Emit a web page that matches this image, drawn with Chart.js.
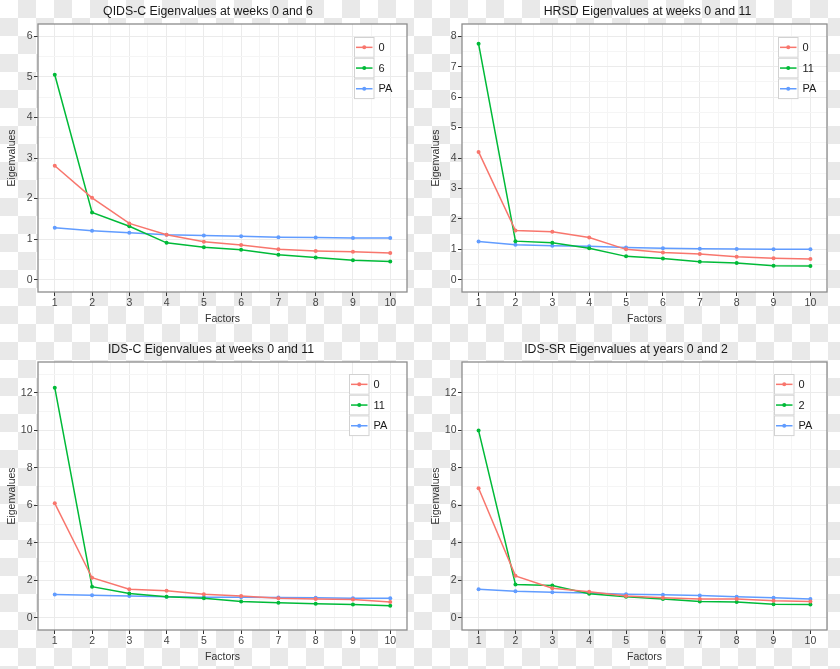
<!DOCTYPE html>
<html><head><meta charset="utf-8">
<script src="https://cdn.jsdelivr.net/npm/chart.js@4/dist/chart.umd.min.js"></script>
<style>
html,body{margin:0;padding:0;}
body{width:840px;height:669px;overflow:hidden;position:relative;
background:repeating-conic-gradient(#e9e9e9 0 25%, #ffffff 0 50%) 0 0/36px 36px;}
canvas{position:absolute;}
</style></head><body>
<canvas id="c1" width="420" height="335" style="left:0;top:0"></canvas>
<canvas id="c2" width="420" height="335" style="left:420px;top:0"></canvas>
<canvas id="c3" width="420" height="334" style="left:0;top:335px"></canvas>
<canvas id="c4" width="420" height="334" style="left:420px;top:335px"></canvas>
<script>
// ---- data ----
const factors = [1,2,3,4,5,6,7,8,9,10];
const qidsWeek0 = [2.81,2.02,1.39,1.11,0.94,0.86,0.75,0.71,0.69,0.66];
const qidsWeek6 = [5.05,1.66,1.32,0.91,0.80,0.74,0.62,0.55,0.48,0.45];
const qidsPA    = [1.28,1.21,1.16,1.11,1.09,1.07,1.05,1.04,1.03,1.03];
const hrsdWeek0  = [4.20,1.62,1.58,1.39,1.00,0.90,0.85,0.76,0.71,0.68];
const hrsdWeek11 = [7.75,1.27,1.22,1.04,0.77,0.70,0.59,0.55,0.46,0.45];
const hrsdPA     = [1.26,1.15,1.12,1.10,1.06,1.04,1.02,1.01,1.00,1.00];
const idscWeek0  = [6.11,2.14,1.53,1.44,1.26,1.16,1.05,1.01,0.98,0.85];
const idscWeek11 = [12.28,1.66,1.30,1.12,1.05,0.87,0.80,0.75,0.71,0.64];
const idscPA     = [1.25,1.21,1.17,1.12,1.10,1.10,1.09,1.07,1.05,1.05];
const idssrYear0 = [6.91,2.24,1.58,1.39,1.17,1.07,1.01,1.00,0.91,0.87];
const idssrYear2 = [9.99,1.78,1.73,1.28,1.12,1.01,0.87,0.84,0.73,0.71];
const idssrPA    = [1.53,1.42,1.37,1.32,1.26,1.23,1.19,1.12,1.07,1.01];
const xTickLabels = [1,2,3,4,5,6,7,8,9,10];
const yTicksQids = [0,1,2,3,4,5,6];
const yTicksHrsd = [0,1,2,3,4,5,6,7,8];
const yTicksIds  = [0,2,4,6,8,10,12];

// ---- styles / layout ----
const COLORS = ['#F8766D','#00BA38','#619CFF'];
const FONT = '"Liberation Sans", Arial, Helvetica, sans-serif';

function withMinors(majors, lo, hi){
  const step = majors[1]-majors[0];
  const out = [];
  for (let i=0;i<majors.length;i++){
    out.push(majors[i]);
    out.push(majors[i]+step/2);
  }
  out.unshift(majors[0]-step/2);
  return out.filter(v=>v>=lo && v<=hi).sort((a,b)=>a-b);
}

const ggDecor = {
  id:'ggDecor',
  beforeDraw(chart){
    const {ctx, chartArea:a} = chart;
    ctx.save(); ctx.fillStyle='#ffffff';
    ctx.fillRect(a.left,a.top,a.right-a.left,a.bottom-a.top); ctx.restore();
  },
  afterDraw(chart, args, o){
    const {ctx, chartArea:a} = chart;
    ctx.save();
    ctx.strokeStyle='#8c8c8c'; ctx.lineWidth=1.3;
    ctx.strokeRect(a.left,a.top,a.right-a.left,a.bottom-a.top);
    ctx.textAlign='center'; ctx.textBaseline='middle';
    ctx.fillStyle='#1a1a1a'; ctx.font='12.3px '+FONT;
    ctx.fillText(o.title, o.titleX, a.top-12);
    ctx.fillStyle='#333333'; ctx.font='10.5px '+FONT;
    ctx.fillText(o.xTitle, (a.left+a.right)/2, a.bottom+27.5);
    ctx.save();
    ctx.translate(a.left-26,(a.top+a.bottom)/2); ctx.rotate(-Math.PI/2);
    ctx.fillText(o.yTitle,0,0);
    ctx.restore();
    // legend
    const kw=20.5, kh=20.7;
    chart.data.datasets.forEach((ds,i)=>{
      const x=o.legendX, y=o.legendY+i*kh;
      ctx.fillStyle='#ffffff'; ctx.fillRect(x,y,kw,kh);
      ctx.strokeStyle='#d2d2d2'; ctx.lineWidth=1;
      ctx.strokeRect(x+0.5,y+0.5,kw-1,kh-1);
      ctx.strokeStyle=ds.borderColor; ctx.lineWidth=1.5;
      ctx.beginPath(); ctx.moveTo(x+2,y+kh/2); ctx.lineTo(x+kw-2,y+kh/2); ctx.stroke();
      ctx.fillStyle=ds.borderColor;
      ctx.beginPath(); ctx.arc(x+kw/2,y+kh/2,2,0,Math.PI*2); ctx.fill();
      ctx.fillStyle='#1a1a1a'; ctx.font='11px '+FONT; ctx.textAlign='left';
      ctx.fillText(ds.label, x+kw+4, y+kh/2+0.5);
    });
    ctx.restore();
  }
};

function makeChart(p){
  const xMin=0.55, xMax=10.45;
  const xT = withMinors(xTickLabels, xMin, xMax);
  const yT = withMinors(p.yTicks, p.yMin, p.yMax);
  const isMajX = v => xTickLabels.includes(v);
  const isMajY = v => p.yTicks.includes(v);
  new Chart(document.getElementById(p.id), {
    type:'line',
    data:{ datasets: p.series.map((vals,i)=>({
      label:p.labels[i],
      data: factors.map((f,j)=>({x:f,y:vals[j]})),
      borderColor:COLORS[i], backgroundColor:COLORS[i],
      borderWidth:1.5, pointRadius:2, pointBorderWidth:0, pointHoverRadius:2,
      tension:0, fill:false
    }))},
    options:{
      responsive:false, animation:false, devicePixelRatio:1,
      layout:{padding:p.pad},
      plugins:{legend:{display:false}, tooltip:{enabled:false}, title:{display:false},
        ggDecor:{title:p.title, titleX:p.titleX, xTitle:'Factors', yTitle:'Eigenvalues',
                 legendX:p.legendX, legendY:p.legendY}},
      scales:{
        x:{type:'linear', min:xMin, max:xMax,
           afterBuildTicks:s=>{s.ticks=xT.map(v=>({value:v}));},
           afterFit:s=>{s.height=p.xH;},
           border:{display:false},
           grid:{color:c=>isMajX(c.tick.value)?'#ebebeb':'#f5f5f5', lineWidth:1,
                 drawTicks:true, tickLength:4,
                 tickColor:c=>isMajX(c.tick.value)?'#333333':'rgba(0,0,0,0)'},
           ticks:{autoSkip:false, maxRotation:0, padding:1, color:'#444444',
                  font:{family:FONT,size:10.5},
                  callback:v=>isMajX(v)?String(v):''}},
        y:{type:'linear', min:p.yMin, max:p.yMax,
           afterBuildTicks:s=>{s.ticks=yT.map(v=>({value:v}));},
           afterFit:s=>{s.width=p.yW;},
           border:{display:false},
           grid:{color:c=>isMajY(c.tick.value)?'#ebebeb':'#f5f5f5', lineWidth:1,
                 drawTicks:true, tickLength:4,
                 tickColor:c=>isMajY(c.tick.value)?'#333333':'rgba(0,0,0,0)'},
           ticks:{autoSkip:false, padding:1.5, color:'#444444',
                  font:{family:FONT,size:10.5},
                  callback:v=>isMajY(v)?String(v):''}}
      }
    },
    plugins:[ggDecor]
  });
}

makeChart({id:'c1', title:'QIDS-C Eigenvalues at weeks 0 and 6',
  series:[qidsWeek0,qidsWeek6,qidsPA], labels:['0','6','PA'],
  yMin:-0.3, yMax:6.3, yTicks:yTicksQids,
  pad:{left:0,right:13,top:24,bottom:23}, yW:38, xH:20,
  titleX:208, legendX:354, legendY:37});
makeChart({id:'c2', title:'HRSD Eigenvalues at weeks 0 and 11',
  series:[hrsdWeek0,hrsdWeek11,hrsdPA], labels:['0','11','PA'],
  yMin:-0.4, yMax:8.4, yTicks:yTicksHrsd,
  pad:{left:0,right:13,top:24,bottom:23}, yW:42, xH:20,
  titleX:227.5, legendX:358, legendY:37});
makeChart({id:'c3', title:'IDS-C Eigenvalues at weeks 0 and 11',
  series:[idscWeek0,idscWeek11,idscPA], labels:['0','11','PA'],
  yMin:-0.65, yMax:13.65, yTicks:yTicksIds,
  pad:{left:0,right:13,top:27,bottom:19}, yW:38, xH:20,
  titleX:211, legendX:349, legendY:39});
makeChart({id:'c4', title:'IDS-SR Eigenvalues at years 0 and 2',
  series:[idssrYear0,idssrYear2,idssrPA], labels:['0','2','PA'],
  yMin:-0.65, yMax:13.65, yTicks:yTicksIds,
  pad:{left:0,right:13,top:27,bottom:19}, yW:42, xH:20,
  titleX:206, legendX:354, legendY:39});
</script>
</body></html>
